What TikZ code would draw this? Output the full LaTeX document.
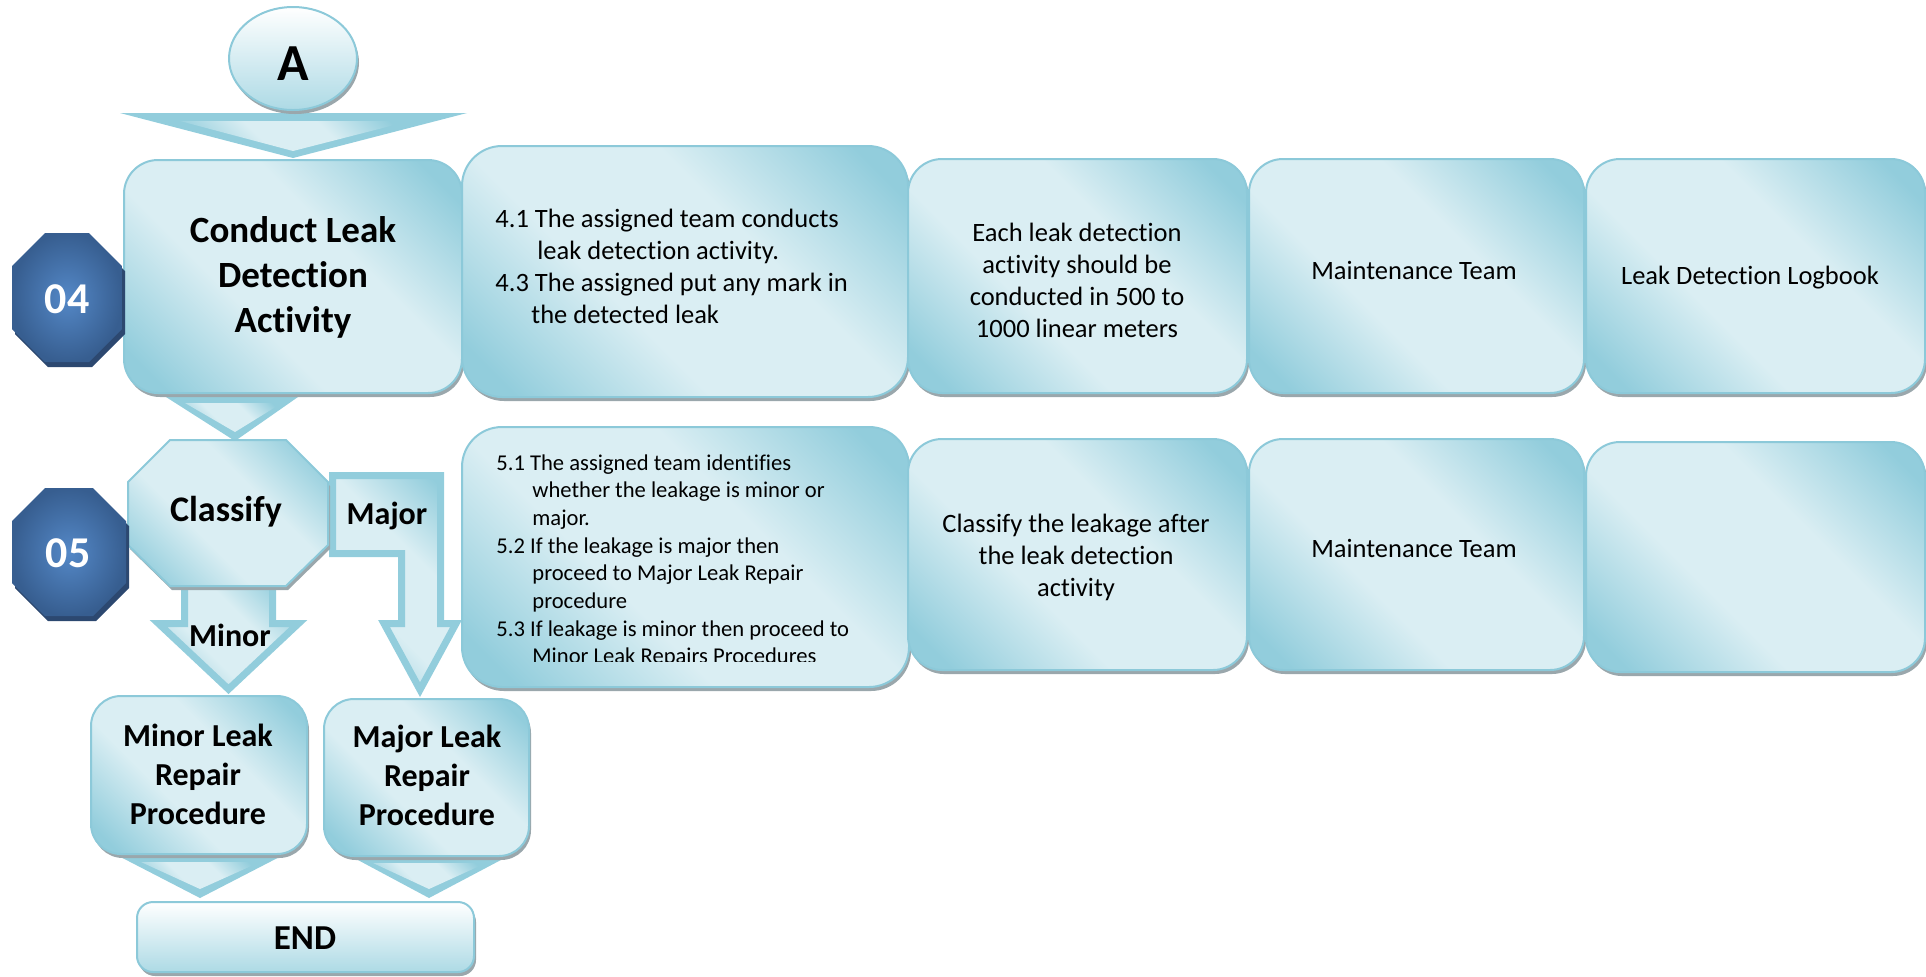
\documentclass[tikz,border=0pt]{standalone}
\usepackage{fontspec}
\setmainfont{Carlito}[Ligatures=NoCommon]
\usetikzlibrary{shadows,shapes.geometric}

\definecolor{aqD}{HTML}{92CDDC}
\definecolor{aqL}{HTML}{DAEEF3}
\definecolor{aqLine}{HTML}{8CC9D9}
\definecolor{shadowgray}{HTML}{9AA7AC}
\definecolor{octDark}{HTML}{375E90}
\definecolor{octLight}{HTML}{5488C7}
\definecolor{octEdge}{HTML}{2C4870}
\definecolor{paleBottom}{HTML}{ADDAE5}

% dark corners, wide pale band along the other diagonal
\pgfdeclareverticalshading{aquaband}{100bp}{%
  color(0bp)=(aqD); color(20bp)=(aqD); color(40bp)=(aqL); color(60bp)=(aqL);
  color(80bp)=(aqD); color(100bp)=(aqD)}

\newcommand\rowfont{\fontsize{13.25}{16}\selectfont}
\newcommand\smallrowfont{\fontsize{11.3}{13.85}\selectfont}
\newcommand\titlefont{\bfseries\fontsize{18.5}{22.5}\selectfont}
\newcommand\leakfont{\bfseries\fontsize{16}{19.5}\selectfont}

\tikzset{
  aquafill/.style={shade, shading=aquaband, shading angle=-45},
  paleshade/.style={top color=white, bottom color=paleBottom},
  boxshadow/.style={general shadow={fill=shadowgray, shadow xshift=1pt, shadow yshift=-2pt}},
  panel/.style={rectangle, rounded corners=17pt, draw=aqLine, line width=1pt,
                aquafill, boxshadow, inner sep=0pt},
  widepanel/.style={panel, rounded corners=20pt},
  leakpanel/.style={panel, rounded corners=15pt},
  txt/.style={inner sep=0pt, align=center, text=black},
  blockarrow/.style={draw=aqD, line width=3.5pt, line join=miter, miter limit=20, aquafill},
  numoct/.style={shading=radial, inner color=octLight, outer color=octDark},
}

\begin{document}
\begin{tikzpicture}[x=0.5pt,y=-0.5pt]
\useasboundingbox (0,0) rectangle (1926,976);

% ---------- block arrows (behind the boxes) ----------
% from start A to step 04
\fill[aqD] (120,113) -- (467,113) -- (293,158) -- cycle;
\path[aquafill] (180,121) -- (410,121) -- (293,151) -- cycle;
% from step 04 to classify
\fill[aqD] (155,390) -- (308,390) -- (235,441) -- cycle;
\path[aquafill] (185,403) -- (282,403) -- (235,432) -- cycle;
% minor branch
\path[blockarrow] (184.5,586) -- (272.5,586) -- (272.5,623.5) -- (298.5,623.5)
   -- (228.5,689.2) -- (158.5,623.5) -- (184.5,623.5) -- cycle;
% major branch
\path[blockarrow] (332.5,475.5) -- (440.5,475.5) -- (440.5,623.5) -- (456,623.5)
   -- (420,689.7) -- (384,623.5) -- (401.5,623.5) -- (401.5,553.5) -- (332.5,553.5) -- cycle;
% repair procedures to END
\fill[aqD] (107,850) -- (293,850) -- (200,898) -- cycle;
\path[aquafill] (141,862) -- (260,862) -- (200,889) -- cycle;
\fill[aqD] (343,852) -- (516,852) -- (429,898) -- cycle;
\path[aquafill] (373,863) -- (486,863) -- (429,889) -- cycle;

% ---------- start connector ----------
\node[ellipse, draw=aqLine, line width=1pt, paleshade, boxshadow, inner sep=0pt,
      minimum width=64pt, minimum height=51.5pt] (startA) at (293,58.5) {};
\node[txt, font=\bfseries\fontsize{26}{30}\selectfont] (startAtxt) at (293,64) {A};

% ---------- row 04 ----------
\node[panel, minimum width=169pt, minimum height=116.5pt] (conduct) at (293,276.5) {};
\node[txt, font=\titlefont] (conducttxt) at (293,277) {Conduct Leak\\Detection\\Activity};

\node[widepanel, minimum width=223pt, minimum height=125.5pt] (step41) at (685,271.5) {};
\node[txt, align=left, anchor=west, font=\rowfont] (step41txt) at (495,266)
  {4.1 The assigned team conducts\\\hspace*{21pt}leak detection activity.\\4.3 The assigned put any mark in\\\hspace*{18pt}the detected leak};

\node[panel, minimum width=169.5pt, minimum height=117pt] (rule41) at (1077.5,276) {};
\node[txt, font=\rowfont] (rule41txt) at (1077,280)
  {Each leak detection\\activity should be\\conducted in 500 to\\1000 linear meters};

\node[panel, minimum width=167.5pt, minimum height=117pt] (resp41) at (1416.5,276) {};
\node[txt, font=\rowfont] (resp41txt) at (1414,270) {Maintenance Team};

\node[panel, minimum width=169.5pt, minimum height=117pt] (rec41) at (1755.5,276) {};
\node[txt, font=\rowfont] (rec41txt) at (1750,278) {Leak Detection Logbook};

% step number 04
\fill[octEdge] (48,238) -- (92,238) -- (125,271) -- (125,334) -- (92,367) -- (48,367) -- (15,334) -- (15,271) -- cycle;
\path[numoct] (45,233) -- (89,233) -- (122,266) -- (122,329) -- (89,362) -- (45,362) -- (12,329) -- (12,266) -- cycle;
\node[txt, text=white, font=\bfseries\fontsize{22}{26}\selectfont] (num04) at (67,299) {04};

% ---------- row 05 ----------
\path[aquafill, draw=aqLine, line width=1pt, boxshadow]
  (170,440) -- (286,440) -- (328,482) -- (328,545) -- (286,586) -- (170,586) -- (128,545) -- (128,482) -- cycle;
\node[txt, font=\bfseries\fontsize{18}{22}\selectfont] (classify) at (226,512) {Classify};

\node[txt, font=\leakfont] (majorlbl) at (387,516) {Major};
\node[txt, font=\leakfont] (minorlbl) at (230,635) {Minor};

\node[widepanel, minimum width=223.5pt, minimum height=130pt] (step51) at (685.5,557) {};
\begin{scope}
  \clip (462,427) rectangle (909,661);
  \node[txt, align=left, anchor=west, font=\smallrowfont] (step51txt) at (496,561)
    {5.1 The assigned team identifies\\\hspace*{18pt}whether the leakage is minor or\\\hspace*{18pt}major.\\
     5.2 If the leakage is major then\\\hspace*{18pt}proceed to Major Leak Repair\\\hspace*{18pt}procedure\\
     5.3 If leakage is minor then proceed to\\\hspace*{18pt}Minor Leak Repairs Procedures};
\end{scope}

\node[panel, minimum width=169.5pt, minimum height=115.5pt] (rule51) at (1077.5,554.5) {};
\node[txt, font=\rowfont] (rule51txt) at (1076,557)
  {Classify the leakage after\\the leak detection\\activity};

\node[panel, minimum width=167.5pt, minimum height=115.5pt] (resp51) at (1416.5,554.5) {};
\node[txt, font=\rowfont] (resp51txt) at (1414,548) {Maintenance Team};

\node[panel, minimum width=169.5pt, minimum height=115pt] (rec51) at (1755.5,557) {};

% step number 05
\fill[octEdge] (48,493) -- (96,493) -- (129,526) -- (129,588) -- (96,621) -- (48,621) -- (15,588) -- (15,526) -- cycle;
\path[numoct] (45,488) -- (93,488) -- (126,521) -- (126,583) -- (93,616) -- (45,616) -- (12,583) -- (12,521) -- cycle;
\node[txt, text=white, font=\bfseries\fontsize{22}{26}\selectfont] (num05) at (68,553) {05};

% ---------- repair procedures and end ----------
\node[leakpanel, minimum width=108pt, minimum height=79pt] (minorbox) at (199,775) {};
\node[txt, font=\leakfont] (minorboxtxt) at (198,774) {Minor Leak\\Repair\\Procedure};

\node[leakpanel, minimum width=102.5pt, minimum height=78.5pt] (majorbox) at (426.5,777.5) {};
\node[txt, font=\leakfont] (majorboxtxt) at (427,775) {Major Leak\\Repair\\Procedure};

\node[rectangle, rounded corners=8pt, draw=aqLine, line width=1pt, paleshade, boxshadow,
      inner sep=0pt, minimum width=168.5pt, minimum height=35pt] (endbox) at (305.5,937) {};
\node[txt, font=\bfseries\fontsize{17.5}{21}\selectfont] (endtxt) at (305,938) {END};

\end{tikzpicture}
\end{document}
